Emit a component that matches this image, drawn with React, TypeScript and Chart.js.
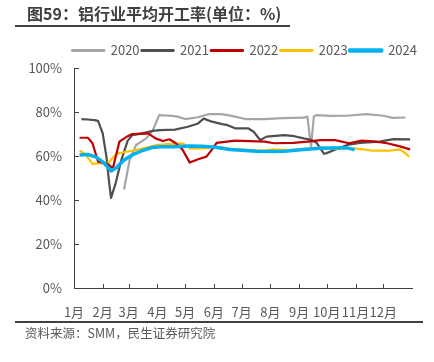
import React, { useEffect, useRef } from "react";
import { Chart, registerables } from "chart.js";
Chart.register(...registerables);

const FONT = "'Noto Sans CJK SC', 'Noto Sans', sans-serif";

const titleText = "图59：铝行业平均开工率(单位：%)";
const sourceText = "资料来源：SMM，民生证券研究院";

const monthLabels = ["1月", "2月", "3月", "4月", "5月", "6月", "7月", "8月", "9月", "10月", "11月", "12月"];
const monthStartDays = [0, 31, 59, 90, 120, 151, 181, 212, 243, 273, 304, 334];
const yTicks = [0, 20, 40, 60, 80, 100];

// day of year -> utilisation rate (%)
const days2020 = [54, 60, 67, 78, 85, 92, 99, 106, 112, 120, 134, 145, 159, 166, 174, 185, 205, 225, 248, 252, 256, 259, 262, 276, 294, 316, 334, 344, 358];
const vals2020 = [44.8, 58, 65, 68, 71.5, 78.6, 78.4, 78.2, 77.9, 76.8, 77.6, 79, 79, 78.6, 77.9, 76.8, 76.8, 77.2, 77.4, 77.9, 64, 78, 78.6, 78.2, 78.3, 79, 78.3, 77.3, 77.5];

const days2021 = [8, 15, 22, 26, 31, 35, 38, 40, 45, 51, 58, 63, 74, 85, 93, 109, 123, 134, 140, 149, 160, 166, 174, 188, 194, 201, 208, 227, 238, 248, 256, 262, 270, 273, 281, 295, 309, 330, 345, 363];
const vals2021 = [76.8, 76.6, 76.3, 76, 70.3, 59.7, 47.7, 41, 47.7, 58, 67, 69.5, 70.3, 71.4, 71.8, 72, 73.3, 74.8, 77, 75.6, 74.5, 74, 72.6, 72.6, 71, 67.3, 68.8, 69.5, 69, 68, 67.3, 66, 61, 61.3, 62.7, 65, 66, 66.5, 67.7, 67.6];

const days2022 = [6, 15, 20, 26, 31, 36, 42, 49, 58, 63, 80, 88, 96, 103, 110, 117, 125, 134, 143, 150, 154, 174, 190, 206, 216, 237, 252, 266, 282, 297, 311, 326, 338, 351, 363];
const vals2022 = [68.3, 68.3, 65.8, 57.4, 57, 56.5, 54.4, 66.5, 69, 70, 70.3, 68, 66.8, 67.6, 65.8, 63, 57, 58.5, 59.7, 63.5, 66, 67, 66.8, 66.5, 65.8, 66, 66.5, 67.2, 67.2, 65.8, 67, 66.5, 65.8, 64.5, 63];

const days2023 = [6, 12, 20, 28, 35, 39, 46, 55, 64, 75, 89, 106, 118, 125, 140, 154, 172, 189, 205, 215, 234, 248, 266, 285, 301, 313, 323, 341, 352, 357, 362];
const vals2023 = [62.4, 61, 56.4, 56.7, 56.4, 57.8, 61, 61.8, 62.5, 63.5, 65, 65.5, 65.6, 63.5, 63.5, 64.2, 63.3, 62.7, 62.5, 63, 62.7, 63.3, 63.8, 63.2, 63.5, 63, 62.4, 62.4, 63, 61.5, 59.7];

const days2024 = [6, 15, 24, 32, 40, 46, 54, 63, 74, 85, 93, 107, 125, 138, 153, 168, 181, 197, 215, 227, 248, 266, 277, 294, 303];
const vals2024 = [60.5, 60.7, 59.5, 57, 53.2, 54.8, 58.2, 60.5, 62.5, 63.9, 64.2, 64.2, 64.5, 64.4, 64, 63, 62.6, 62.2, 62, 62.2, 63, 63.5, 63.6, 63.8, 62.8];

const seriesLabels = ["2020", "2021", "2022", "2023", "2024"];
const seriesDays = [days2020, days2021, days2022, days2023, days2024];
const seriesVals = [vals2020, vals2021, vals2022, vals2023, vals2024];
const seriesColors = ["#A6A6A6", "#4F4F4F", "#C00000", "#FFC000", "#00B0F0"];
const seriesWidths = [2.2, 2.2, 2.2, 2.2, 3.5];
const seriesOrder = [4, 3, 1, 2, 0];

const AXIS_COLOR = "#404040";
const TEXT_COLOR = "#595959";

const inwardTicks = {
  id: "inwardTicks",
  afterDraw(chart: any) {
    const { ctx, chartArea, scales } = chart;
    ctx.save();
    ctx.strokeStyle = AXIS_COLOR;
    ctx.lineWidth = 1;
    ctx.beginPath();
    for (const v of yTicks) {
      const y = Math.round(scales.y.getPixelForValue(v)) + 0.5;
      ctx.moveTo(chartArea.left, y);
      ctx.lineTo(chartArea.left + 5, y);
    }
    for (const d of monthStartDays) {
      const x = Math.round(scales.x.getPixelForValue(d)) + 0.5;
      ctx.moveTo(x, chartArea.bottom);
      ctx.lineTo(x, chartArea.bottom - 4);
    }
    ctx.stroke();
    ctx.restore();
  },
};

export default function App() {
  const canvasRef = useRef<HTMLCanvasElement | null>(null);

  useEffect(() => {
    if (!canvasRef.current) return;
    const datasets = seriesLabels.map((label, s) => ({
      label,
      data: seriesDays[s].map((d, i) => ({ x: d, y: seriesVals[s][i] })),
      borderColor: seriesColors[s],
      backgroundColor: seriesColors[s],
      borderWidth: seriesWidths[s],
      pointRadius: 0,
      tension: 0,
      borderJoinStyle: "round" as const,
      order: seriesOrder[s],
      xAxisID: "x",
      yAxisID: "y",
    }));
    const chart = new Chart(canvasRef.current, {
      type: "line",
      data: { datasets },
      options: {
        animation: false,
        responsive: false,
        maintainAspectRatio: false,
        layout: { padding: { top: 42, right: 15, bottom: 42, left: 0 } },
        plugins: {
          legend: {
            position: "top",
            align: "end",
            labels: {
              boxWidth: 32,
              boxHeight: 1,
              padding: 2,
              color: TEXT_COLOR,
              font: { size: 13, family: FONT },
              sort: (a: any, b: any) => a.datasetIndex - b.datasetIndex,
            },
          },
          tooltip: { enabled: false },
        },
        scales: {
          x: {
            type: "linear",
            min: 0,
            max: 365,
            border: { color: AXIS_COLOR, width: 1 },
            grid: { display: false, drawTicks: false },
            afterBuildTicks: (s: any) => {
              s.ticks = monthStartDays.map((v) => ({ value: v }));
            },
            ticks: {
              autoSkip: false,
              maxRotation: 0,
              minRotation: 0,
              padding: 16,
              color: TEXT_COLOR,
              font: { size: 13, family: FONT },
              callback: (_v: any, i: number) => monthLabels[i],
            },
            afterFit: (s: any) => {
              s.height = 32;
            },
          },
          xTop: {
            type: "linear",
            axis: "x",
            position: "top",
            min: 0,
            max: 1,
            display: true,
            border: { display: false },
            grid: { display: false, drawTicks: false },
            ticks: { display: false },
            afterFit: (s: any) => {
              s.height = 1;
            },
          },
          y: {
            type: "linear",
            min: 0,
            max: 100,
            border: { color: AXIS_COLOR, width: 1 },
            grid: { display: false, drawTicks: false },
            afterBuildTicks: (s: any) => {
              s.ticks = yTicks.map((v) => ({ value: v }));
            },
            ticks: {
              padding: 12,
              color: TEXT_COLOR,
              font: { size: 13, family: FONT },
              callback: (v: any) => v + "%",
            },
            afterFit: (s: any) => {
              s.width = 74;
            },
          },
          yRight: {
            type: "linear",
            axis: "y",
            position: "right",
            min: 0,
            max: 1,
            display: true,
            border: { display: false },
            grid: { display: false, drawTicks: false },
            ticks: { display: false },
            afterFit: (s: any) => {
              s.width = 7;
            },
          },
        },
      } as any,
      plugins: [inwardTicks],
    });
    return () => chart.destroy();
  }, []);

  return (
    <div
      style={{
        position: "fixed",
        left: 0,
        top: 0,
        width: 434,
        height: 362,
        background: "#fff",
        overflow: "hidden",
        fontFamily: FONT,
      }}
    >
      <canvas ref={canvasRef} width={434} height={362} style={{ position: "absolute", left: 0, top: 0 }} />
      <div
        style={{
          position: "absolute",
          left: 27,
          top: 2,
          fontSize: 16,
          fontWeight: "bold",
          color: "#404040",
          lineHeight: "22px",
          whiteSpace: "nowrap",
        }}
      >
        {titleText}
      </div>
      <div style={{ position: "absolute", left: 15, top: 25, width: 275, height: 2, background: "#404040" }} />
      <div style={{ position: "absolute", left: 15, top: 321, width: 408, height: 2, background: "#404040" }} />
      <div
        style={{
          position: "absolute",
          left: 25,
          top: 324,
          fontSize: 12.5,
          color: TEXT_COLOR,
          lineHeight: "18px",
          whiteSpace: "nowrap",
        }}
      >
        {sourceText}
      </div>
    </div>
  );
}
